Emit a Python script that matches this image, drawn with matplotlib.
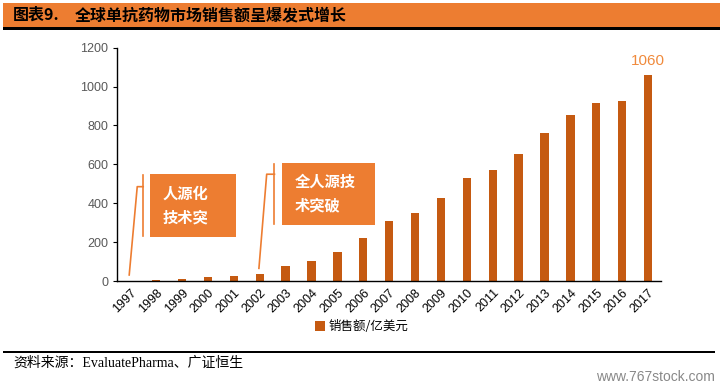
import matplotlib

matplotlib.use("Agg")
import matplotlib.pyplot as plt
import numpy as np
from matplotlib.patches import Rectangle

YEARS = [str(y) for y in range(1997, 2018)]
SALES = [1, 5, 10, 19, 28, 38, 78, 103, 150, 220, 310, 350, 427, 532, 572,
         653, 763, 854, 916, 926, 1060]
SERIES_NAME = "销售额/亿美元"
TITLE_NO = "图表9."
TITLE = "全球单抗药物市场销售额呈爆发式增长"
NOTE_1 = "人源化\n技术突"
NOTE_2 = "全人源技\n术突破"
SOURCE = "资料来源：EvaluatePharma、广证恒生"
WATERMARK = "www.767stock.com"

BAR_COLOR = "#C55A11"
ACCENT = "#ED7D31"
TICK_COLOR = "#595959"

CJK = ["Noto Sans CJK SC", "DejaVu Sans"]
plt.rcParams["font.family"] = ["Liberation Sans", "Noto Sans CJK SC"]

fig = plt.figure(figsize=(7.25, 3.89), dpi=100)

# title band
fig.patches.append(Rectangle((3 / 725, 1 - 27 / 389), 717 / 725, 24 / 389,
                             transform=fig.transFigure, facecolor=ACCENT,
                             edgecolor="none", zorder=0))
fig.patches.append(Rectangle((3 / 725, 1 - 30 / 389), 717 / 725, 3 / 389,
                             transform=fig.transFigure, facecolor="black",
                             edgecolor="none", zorder=0))
fig.text(13 / 725, 1 - 15 / 389, TITLE_NO, family=CJK, fontsize=11.5,
         fontweight="bold", va="center", color="black")
fig.text(75 / 725, 1 - 15 / 389, TITLE, family=CJK, fontsize=11.5,
         fontweight="bold", va="center", color="black")

ax = fig.add_axes([117.3 / 725, 1 - 281 / 389, (661 - 117.3) / 725, (281 - 47.6) / 389])
x = np.arange(len(YEARS))
bars = ax.bar(x, SALES, width=0.32, color=BAR_COLOR, label=SERIES_NAME, zorder=2)
ax.set_xlim(-0.5, len(YEARS) - 0.5)
ax.set_ylim(0, 1200)
ax.set_yticks(range(0, 1201, 200))
ax.set_xticks(x)
ax.set_xticklabels(YEARS, rotation=45, ha="right", rotation_mode="anchor")
ax.tick_params(axis="y", labelsize=9, colors=TICK_COLOR, length=3, width=0.8)
ax.tick_params(axis="y", color="black")
ax.tick_params(axis="x", labelsize=9, length=0, pad=4)
for lab in ax.get_xticklabels():
    lab.set_color("black")
for lab in ax.get_yticklabels():
    lab.set_color(TICK_COLOR)
ax.spines["top"].set_visible(False)
ax.spines["right"].set_visible(False)
ax.spines["left"].set_linewidth(1.0)
ax.spines["bottom"].set_linewidth(1.0)

# value label on the last bar
ax.text(x[-1], SALES[-1] + 35, str(SALES[-1]), ha="center", va="bottom",
        fontsize=11, color="#F08A3C")

# callout boxes
ax.add_patch(Rectangle((0.76, 226), 3.31, 323, facecolor=ACCENT, edgecolor="none", zorder=3))
ax.text(1.25, 388, NOTE_1, family=CJK, fontsize=11, fontweight="bold", color="white",
        va="center", ha="left", linespacing=1.55, zorder=4)
ax.plot([-0.04, 0.27, 0.5], [31, 485, 485], color=ACCENT, lw=1.2, zorder=3)
ax.plot([0.5, 0.5], [231, 545], color=ACCENT, lw=1.2, zorder=3)

ax.add_patch(Rectangle((5.85, 288), 3.61, 320, facecolor=ACCENT, edgecolor="none", zorder=3))
ax.text(6.35, 450, NOTE_2, family=CJK, fontsize=11, fontweight="bold", color="white",
        va="center", ha="left", linespacing=1.55, zorder=4)
ax.plot([4.97, 5.27, 5.57], [65, 549, 549], color=ACCENT, lw=1.2, zorder=3)
ax.plot([5.57, 5.57], [293, 601], color=ACCENT, lw=1.2, zorder=3)

leg = fig.legend(handles=[bars], labels=[SERIES_NAME], loc="center",
                 bbox_to_anchor=(362 / 725, 1 - 327 / 389), frameon=False,
                 handlelength=0.8, handleheight=0.8, handletextpad=0.3,
                 prop={"family": CJK, "size": 9})

# footer
fig.patches.append(Rectangle((3 / 725, 1 - 353 / 389), 712 / 725, 2 / 389,
                             transform=fig.transFigure, facecolor="black",
                             edgecolor="none"))
fig.text(13 / 725, 1 - 363 / 389, SOURCE, family=["Liberation Serif", "Noto Sans CJK SC"],
         fontsize=10, va="center", color="black")
fig.text(715 / 725, 1 - 377 / 389, WATERMARK, fontsize=10, ha="right", va="center",
         color="#888888")

fig.savefig("out.png", dpi=100)
